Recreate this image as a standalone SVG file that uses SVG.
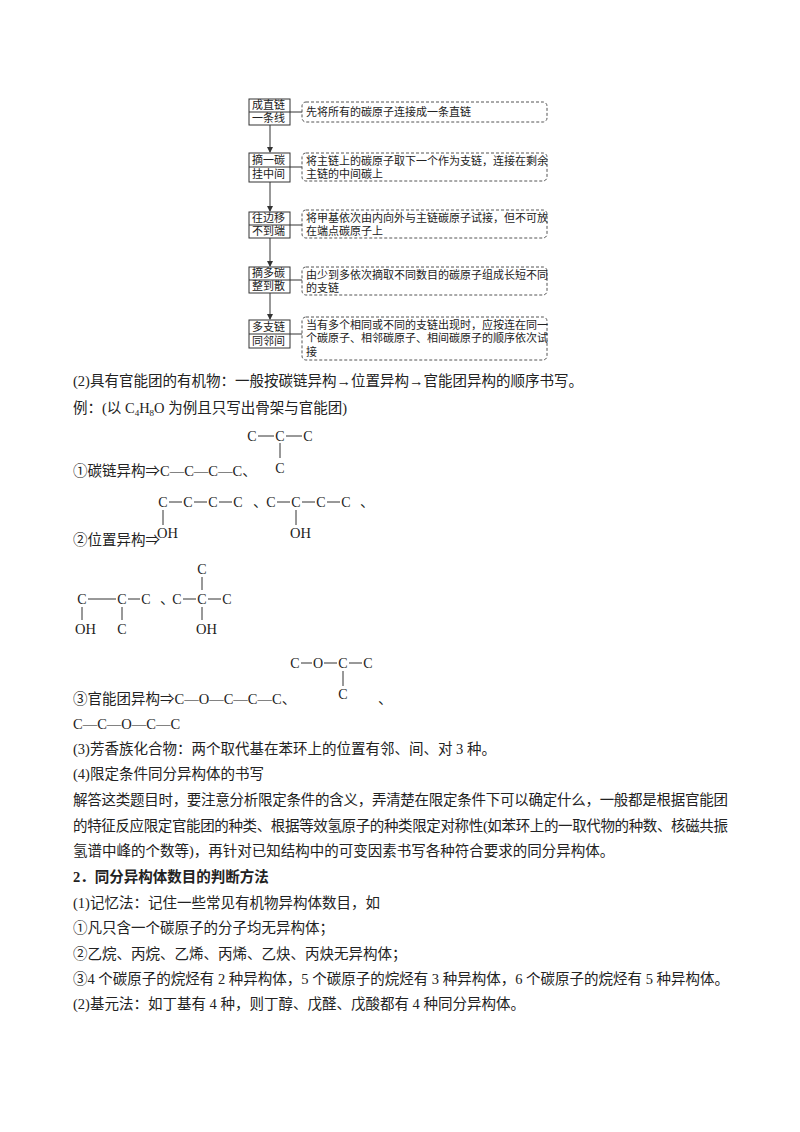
<svg xmlns="http://www.w3.org/2000/svg" width="800" height="1132" viewBox="0 0 800 1132">
<defs><marker id="ah" markerWidth="6" markerHeight="6" refX="5" refY="3" orient="auto"><path d="M0,0 L6,3 L0,6 z" fill="#333"/></marker></defs>
<style>
text{font-family:"Liberation Serif","Noto Sans CJK SC",serif;fill:#222}
.b{font-size:14.5px}
.f{font-size:11px}
.a{font-size:14px;text-anchor:middle}
.box{fill:#fff;stroke:#333;stroke-width:1}
.d{fill:#fff;stroke:#555;stroke-width:1;stroke-dasharray:3,2}
.l{stroke:#333;stroke-width:1}
</style>
<rect width="800" height="1132" fill="#fff"/>
<g id="connectors">
<line class="l" x1="270" y1="125" x2="270" y2="152" marker-end="url(#ah)"/>
<line class="l" x1="270" y1="182" x2="270" y2="211" marker-end="url(#ah)"/>
<line class="l" x1="270" y1="238" x2="270" y2="266" marker-end="url(#ah)"/>
<line class="l" x1="270" y1="293" x2="270" y2="319" marker-end="url(#ah)"/>
<line class="l" x1="290" y1="112" x2="302" y2="112"/>
<line class="l" x1="290" y1="167" x2="302" y2="167"/>
<line class="l" x1="290" y1="225" x2="302" y2="225"/>
<line class="l" x1="290" y1="280" x2="302" y2="280"/>
<line class="l" x1="290" y1="334" x2="302" y2="334"/>
</g>
<g id="n1"><rect class="box" x="249" y="99" width="41" height="26"/><line class="l" x1="249" y1="112" x2="290" y2="112"/><text class="f" x="252" y="109">成直链</text><text class="f" x="252" y="122">一条线</text>
<rect class="d" x="302" y="102" width="245" height="20" rx="4"/><text class="f" x="306" y="116">先将所有的碳原子连接成一条直链</text></g>
<g id="n2"><rect class="box" x="249" y="153" width="41" height="29"/><line class="l" x1="249" y1="167" x2="290" y2="167"/><text class="f" x="252" y="164">摘一碳</text><text class="f" x="252" y="178">挂中间</text>
<rect class="d" x="302" y="153" width="245" height="28" rx="4"/><text class="f" x="306" y="165">将主链上的碳原子取下一个作为支链，连接在剩余</text><text class="f" x="306" y="178">主链的中间碳上</text></g>
<g id="n3"><rect class="box" x="249" y="212" width="41" height="26"/><line class="l" x1="249" y1="225" x2="290" y2="225"/><text class="f" x="252" y="222">往边移</text><text class="f" x="252" y="235">不到端</text>
<rect class="d" x="302" y="210" width="245" height="28" rx="4"/><text class="f" x="306" y="222">将甲基依次由内向外与主链碳原子试接，但不可放</text><text class="f" x="306" y="235">在端点碳原子上</text></g>
<g id="n4"><rect class="box" x="249" y="267" width="41" height="26"/><line class="l" x1="249" y1="280" x2="290" y2="280"/><text class="f" x="252" y="277">摘多碳</text><text class="f" x="252" y="290">整到散</text>
<rect class="d" x="302" y="267" width="245" height="28" rx="4"/><text class="f" x="306" y="279">由少到多依次摘取不同数目的碳原子组成长短不同</text><text class="f" x="306" y="292">的支链</text></g>
<g id="n5"><rect class="box" x="249" y="320" width="41" height="28"/><line class="l" x1="249" y1="334" x2="290" y2="334"/><text class="f" x="252" y="331">多支链</text><text class="f" x="252" y="345">同邻间</text>
<rect class="d" x="302" y="317" width="245" height="43" rx="4"/><text class="f" x="306" y="329">当有多个相同或不同的支链出现时，应按连在同一</text><text class="f" x="306" y="342">个碳原子、相邻碳原子、相间碳原子的顺序依次试</text><text class="f" x="306" y="356">接</text></g>

<text class="b" x="73" y="386">(2)具有官能团的有机物：一般按碳链异构→位置异构→官能团异构的顺序书写。</text>
<text class="b" x="73" y="413">例：(以 C<tspan font-size="9" dy="3">4</tspan><tspan dy="-3">H</tspan><tspan font-size="9" dy="3">8</tspan><tspan dy="-3">O 为例且只写出骨架与官能团)</tspan></text>

<!-- 1 -->
<text class="a" x="252" y="441">C</text><text class="a" x="280" y="441">C</text><text class="a" x="308" y="441">C</text>
<line class="l" x1="258" y1="436" x2="274" y2="436"/><line class="l" x1="286" y1="436" x2="302" y2="436"/>
<line class="l" x1="280" y1="443" x2="280" y2="458"/><text class="a" x="280" y="473">C</text>
<text class="b" x="73" y="476">①碳链异构⇒C—C—C—C、</text>

<!-- 2 -->
<g>
<text class="a" x="163" y="507">C</text><text class="a" x="188" y="507">C</text><text class="a" x="213" y="507">C</text><text class="a" x="238" y="507">C</text>
<line class="l" x1="169" y1="502" x2="182" y2="502"/><line class="l" x1="194" y1="502" x2="207" y2="502"/><line class="l" x1="219" y1="502" x2="232" y2="502"/>
<line class="l" x1="163" y1="510" x2="163" y2="525"/><text class="b" x="157" y="538">OH</text>
<text class="b" x="253" y="507">、</text>
<text class="a" x="271" y="507">C</text><text class="a" x="296" y="507">C</text><text class="a" x="321" y="507">C</text><text class="a" x="346" y="507">C</text>
<line class="l" x1="277" y1="502" x2="290" y2="502"/><line class="l" x1="302" y1="502" x2="315" y2="502"/><line class="l" x1="327" y1="502" x2="340" y2="502"/>
<line class="l" x1="296" y1="510" x2="296" y2="525"/><text class="b" x="290" y="538">OH</text>
<text class="b" x="360" y="507">、</text>
</g>
<text class="b" x="73" y="545">②位置异构⇒</text>

<g>
<text class="a" x="82" y="604">C</text><text class="a" x="122" y="604">C</text><text class="a" x="146" y="604">C</text>
<line class="l" x1="88" y1="599" x2="116" y2="599"/><line class="l" x1="128" y1="599" x2="140" y2="599"/>
<line class="l" x1="82" y1="607" x2="82" y2="620"/><text class="b" x="75" y="634">OH</text>
<line class="l" x1="122" y1="607" x2="122" y2="620"/><text class="a" x="122" y="634">C</text>
<text class="b" x="160" y="604">、</text>
<text class="a" x="177" y="604">C</text><text class="a" x="202" y="604">C</text><text class="a" x="227" y="604">C</text>
<line class="l" x1="183" y1="599" x2="196" y2="599"/><line class="l" x1="208" y1="599" x2="221" y2="599"/>
<text class="a" x="202" y="574">C</text><line class="l" x1="202" y1="577" x2="202" y2="590"/>
<line class="l" x1="202" y1="607" x2="202" y2="620"/><text class="b" x="196" y="634">OH</text>
</g>

<!-- 3 -->
<g>
<text class="a" x="295" y="668">C</text><text class="a" x="318" y="668">O</text><text class="a" x="343" y="668">C</text><text class="a" x="368" y="668">C</text>
<line class="l" x1="301" y1="663" x2="312" y2="663"/><line class="l" x1="324" y1="663" x2="337" y2="663"/><line class="l" x1="349" y1="663" x2="362" y2="663"/>
<line class="l" x1="343" y1="671" x2="343" y2="686"/><text class="a" x="343" y="699">C</text>
<text class="b" x="378" y="704">、</text>
</g>
<text class="b" x="73" y="704">③官能团异构⇒C—O—C—C—C、</text>
<text class="b" x="73" y="729">C—C—O—C—C</text>

<text class="b" x="73" y="754">(3)芳香族化合物：两个取代基在苯环上的位置有邻、间、对 3 种。</text>
<text class="b" x="73" y="779">(4)限定条件同分异构体的书写</text>
<text class="b" x="73" y="805" textLength="655" lengthAdjust="spacing">解答这类题目时，要注意分析限定条件的含义，弄清楚在限定条件下可以确定什么，一般都是根据官能团</text>
<text class="b" x="73" y="831" textLength="655" lengthAdjust="spacing">的特征反应限定官能团的种类、根据等效氢原子的种类限定对称性(如苯环上的一取代物的种数、核磁共振</text>
<text class="b" x="73" y="856">氢谱中峰的个数等)，再针对已知结构中的可变因素书写各种符合要求的同分异构体。</text>
<text class="b" x="73" y="882" font-weight="bold">2．同分异构体数目的判断方法</text>
<text class="b" x="73" y="908">(1)记忆法：记住一些常见有机物异构体数目，如</text>
<text class="b" x="73" y="933">①凡只含一个碳原子的分子均无异构体；</text>
<text class="b" x="73" y="959">②乙烷、丙烷、乙烯、丙烯、乙炔、丙炔无异构体；</text>
<text class="b" x="73" y="984">③4 个碳原子的烷烃有 2 种异构体，5 个碳原子的烷烃有 3 种异构体，6 个碳原子的烷烃有 5 种异构体。</text>
<text class="b" x="73" y="1009">(2)基元法：如丁基有 4 种，则丁醇、戊醛、戊酸都有 4 种同分异构体。</text>
</svg>
